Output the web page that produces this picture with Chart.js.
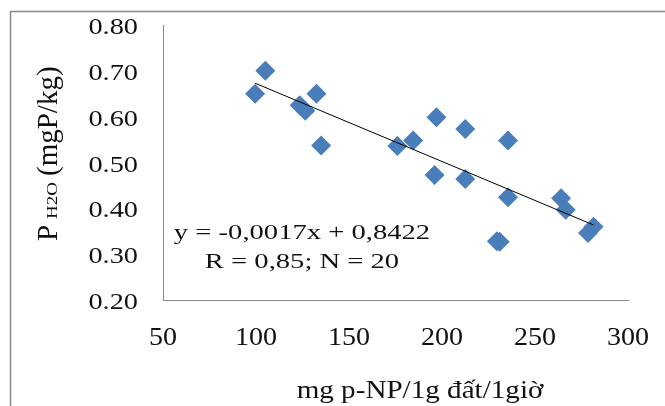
<!DOCTYPE html>
<html>
<head>
<meta charset="utf-8">
<script src="https://cdn.jsdelivr.net/npm/chart.js@4.4.1/dist/chart.umd.min.js"></script>
<style>
  html, body { margin: 0; padding: 0; background: #ffffff; }
  #wrap { width: 665px; height: 406px; position: relative; }
</style>
</head>
<body>
<div id="wrap"><canvas id="scatterGraph" width="665" height="406"></canvas></div>
<script>
// p-NP activity (x) vs P H2O (y)
var activity = [105, 99.5, 123.5, 126.5, 132.5, 135, 176, 184.5, 197, 196,
                212.5, 212.5, 235.5, 235.5, 229.5, 231, 264, 266.5, 281.5, 278.5];
var pH2O = [0.700, 0.650, 0.625, 0.613, 0.650, 0.537, 0.536, 0.548, 0.599, 0.473,
            0.573, 0.464, 0.548, 0.424, 0.328, 0.327, 0.422, 0.397, 0.360, 0.346];

// linear trend shown on the chart: y = -0,0017x + 0,8422
var trendCoef = [-0.0017, 0.8422];
var trendRange = [99.5, 281.5];

var xTicks = [50, 100, 150, 200, 250, 300];
var yTicks = ['0.20', '0.30', '0.40', '0.50', '0.60', '0.70', '0.80'];

var equationLines = ['y = -0,0017x + 0,8422', 'R = 0,85; N = 20'];
var xTitle = 'mg p-NP/1g đất/1giờ';

var FONT = "'Liberation Serif', 'Times New Roman', serif";

// the source text is a bit wider than plain Times, so stretch it sideways
function stretchedText(ctx, txt, x, y, size, align, stretch) {
	ctx.save();
	ctx.font = size + 'px ' + FONT;
	ctx.textAlign = align;
	ctx.textBaseline = 'alphabetic';
	ctx.translate(x, y);
	ctx.scale(stretch, 1);
	ctx.fillText(txt, 0, 0);
	ctx.restore();
}

var scatterPts = [];
for (var i = 0; i < activity.length; i++) {
	scatterPts.push({ x: activity[i], y: pH2O[i] });
}
var trendPts = [];
for (var j = 0; j < trendRange.length; j++) {
	trendPts.push({ x: trendRange[j], y: trendCoef[0] * trendRange[j] + trendCoef[1] });
}

var textPlugin = {
	id: 'textPlugin',
	beforeDraw: function(chart) {
		var ctx = chart.ctx;
		ctx.save();
		ctx.fillStyle = '#ffffff';
		ctx.fillRect(0, 0, chart.width, chart.height);
		// outer frame, open on the right and bottom
		ctx.strokeStyle = '#8a8a8a';
		ctx.lineWidth = 1.5;
		ctx.beginPath();
		ctx.moveTo(10.5, chart.height);
		ctx.lineTo(10.5, 11.5);
		ctx.lineTo(chart.width, 11.5);
		ctx.stroke();
		ctx.restore();
	},
	afterDraw: function(chart) {
		var ctx = chart.ctx;
		var xs = chart.scales.x, ys = chart.scales.y;
		ctx.save();
		ctx.fillStyle = '#111111';

		yTicks.forEach(function(lbl) {
			var py = ys.getPixelForValue(parseFloat(lbl));
			stretchedText(ctx, lbl, 138, py + 9, 24, 'right', 1.18);
		});
		xTicks.forEach(function(v) {
			stretchedText(ctx, String(v), xs.getPixelForValue(v), 345, 26, 'center', 1.08);
		});

		stretchedText(ctx, xTitle, 420, 398, 26, 'center', 1.12);

		stretchedText(ctx, equationLines[0], 302, 239, 22, 'center', 1.3);
		stretchedText(ctx, equationLines[1], 302, 268, 22, 'center', 1.3);

		// rotated y title with H2O subscript
		ctx.save();
		ctx.translate(57, 241);
		ctx.rotate(-Math.PI / 2);
		ctx.textAlign = 'left';
		ctx.textBaseline = 'alphabetic';
		ctx.font = '29px ' + FONT;
		ctx.fillText('P', 0, 0);
		ctx.save();
		ctx.translate(22, 0);
		ctx.scale(1, 0.75);
		ctx.font = '19px ' + FONT;
		ctx.fillText('H2O', 0, 0);
		ctx.restore();
		ctx.font = '29px ' + FONT;
		ctx.fillText('(mgP/kg)', 65, 0);
		ctx.restore();

		ctx.restore();
	}
};

var ctx = document.getElementById('scatterGraph').getContext('2d');
var chart = new Chart(ctx, {
	type: 'scatter',
	data: {
		datasets: [{
			data: scatterPts,
			pointStyle: 'rectRot',
			pointRadius: 10,
			pointHoverRadius: 10,
			backgroundColor: '#4a7ebb',
			borderColor: '#4a7ebb',
			borderWidth: 0,
			order: 1
		}, {
			type: 'line',
			data: trendPts,
			borderColor: '#000000',
			borderWidth: 1,
			pointRadius: 0,
			fill: false,
			order: 0
		}]
	},
	options: {
		responsive: false,
		maintainAspectRatio: false,
		animation: false,
		layout: { padding: { top: 25, right: 37, left: 0, bottom: 0 } },
		plugins: { legend: { display: false }, tooltip: { enabled: false } },
		scales: {
			x: {
				type: 'linear',
				min: 50,
				max: 300,
				ticks: { display: false, stepSize: 50 },
				grid: { display: false },
				border: { color: '#8a8a8a', width: 1 },
				afterFit: function(s) { s.height = 106; }
			},
			y: {
				min: 0.2,
				max: 0.8,
				ticks: { display: false, stepSize: 0.1 },
				grid: { display: false },
				border: { color: '#8a8a8a', width: 1 },
				afterFit: function(s) { s.width = 163; }
			}
		}
	},
	plugins: [textPlugin]
});
</script>
</body>
</html>
